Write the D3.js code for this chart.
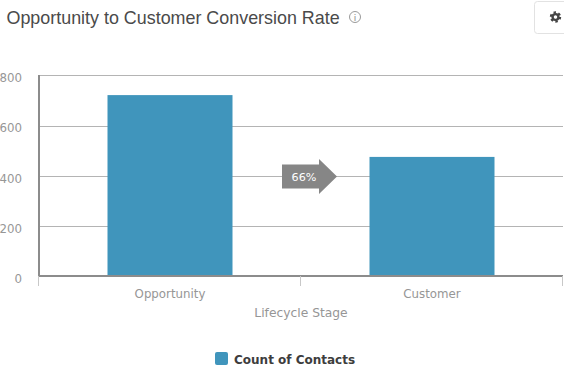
<!DOCTYPE html>
<html>
<head>
<meta charset="utf-8">
<script src="https://cdnjs.cloudflare.com/ajax/libs/d3/7.8.5/d3.min.js"></script>
<style>
  html, body { margin: 0; padding: 0; background: #fff; overflow: hidden; }
  text { font-family: "DejaVu Sans", sans-serif; }
  .tick-label { font-size: 11.8px; fill: #969696; }
</style>
</head>
<body>
<div id="chart"></div>
<script>
const stages = ['Opportunity', 'Customer'];
const contactCounts = [720, 474];
const yTicks = [0, 200, 400, 600, 800];
const seriesName = 'Count of Contacts';
const conversionLabel = '66%';
const chartTitle = 'Opportunity to Customer Conversion Rate';
const xAxisTitle = 'Lifecycle Stage';

const width = 564, height = 367;
const margin = {top: 75, right: 1, bottom: 91, left: 39};
const barColor = '#4095bc';

const svg = d3.select('#chart').append('svg')
    .attr('width', width)
    .attr('height', height);

const x = d3.scaleBand()
    .domain(stages)
    .range([margin.left, width - margin.right]);

const y = d3.scaleLinear()
    .domain([0, 800])
    .range([height - margin.bottom, margin.top]);

// Title and info icon
svg.append('text')
    .attr('x', 6.5)
    .attr('y', 24)
    .attr('fill', '#4a4a4a')
    .style('font-family', '"Liberation Sans", sans-serif')
    .style('font-size', '17.9px')
    .text(chartTitle);

const info = svg.append('g').attr('transform', 'translate(355,17)');
info.append('circle').attr('r', 5.5).attr('fill', 'none').attr('stroke', '#9a9a9a');
info.append('text')
    .attr('text-anchor', 'middle')
    .attr('y', 3.5)
    .attr('fill', '#8a8a8a')
    .style('font-size', '9px')
    .text('i');

// Settings button, cut off by the right edge
svg.append('rect')
    .attr('x', 534.5).attr('y', 1.5)
    .attr('width', 40).attr('height', 32)
    .attr('rx', 3)
    .attr('fill', '#fff')
    .attr('stroke', '#e2e2e2');

const gear = svg.append('g').attr('transform', 'translate(555.5,17)');
gear.append('circle')
    .attr('r', 4.6)
    .attr('fill', 'none')
    .attr('stroke', '#444')
    .attr('stroke-width', 2.2)
    .attr('stroke-dasharray', '2.4 2.4');
gear.append('circle')
    .attr('r', 2.9)
    .attr('fill', 'none')
    .attr('stroke', '#444')
    .attr('stroke-width', 2.4);

// Grid lines
svg.append('g')
  .selectAll('line')
  .data(yTicks.filter(d => d > 0))
  .join('line')
    .attr('x1', margin.left)
    .attr('x2', width - margin.right)
    .attr('y1', d => Math.ceil(y(d)) + 0.5)
    .attr('y2', d => Math.ceil(y(d)) + 0.5)
    .attr('stroke', '#b4b4b4');

// Y tick labels
svg.append('g')
  .selectAll('text')
  .data(yTicks)
  .join('text')
    .attr('class', 'tick-label')
    .attr('x', 22)
    .attr('y', d => y(d) + 7)
    .attr('text-anchor', 'end')
    .text(d => d);

// Bars
const barWidth = 125;
svg.append('g')
  .selectAll('rect')
  .data(contactCounts)
  .join('rect')
    .attr('x', (d, i) => x(stages[i]) + (x.bandwidth() - barWidth) / 2)
    .attr('y', d => y(d))
    .attr('width', barWidth)
    .attr('height', d => y(0) - y(d))
    .attr('fill', barColor);

// Axis lines and x ticks
svg.append('line')
    .attr('x1', margin.left).attr('x2', margin.left)
    .attr('y1', margin.top).attr('y2', y(0))
    .attr('stroke', '#8c8c8c').attr('stroke-width', 2);

svg.append('line')
    .attr('x1', margin.left - 1).attr('x2', width - margin.right)
    .attr('y1', y(0)).attr('y2', y(0))
    .attr('stroke', '#8c8c8c').attr('stroke-width', 2);

const xEdges = [x(stages[0]), x(stages[1]), x(stages[1]) + x.bandwidth()];
svg.append('g')
  .selectAll('line')
  .data(xEdges)
  .join('line')
    .attr('x1', d => Math.round(d) - 0.5)
    .attr('x2', d => Math.round(d) - 0.5)
    .attr('y1', y(0))
    .attr('y2', y(0) + 10)
    .attr('stroke', '#c8c8c8');

svg.append('g')
  .selectAll('text')
  .data(stages)
  .join('text')
    .attr('class', 'tick-label')
    .attr('x', d => x(d) + x.bandwidth() / 2)
    .attr('y', 298)
    .attr('text-anchor', 'middle')
    .text(d => d);

svg.append('text')
    .attr('x', 301)
    .attr('y', 317)
    .attr('text-anchor', 'middle')
    .attr('fill', '#969696')
    .style('font-size', '12.3px')
    .text(xAxisTitle);

// Conversion arrow, centred on the gap between the bars
const arrowX = xEdges[1] - 19, arrowY = y(400) + 1;
svg.append('path')
    .attr('transform', `translate(${arrowX},${arrowY})`)
    .attr('d', 'M0,-12H37V-17.5L55,0L37,17.5V12H0Z')
    .attr('fill', '#868686');

svg.append('text')
    .attr('x', arrowX + 22)
    .attr('y', arrowY + 4)
    .attr('text-anchor', 'middle')
    .attr('fill', '#ffffff')
    .style('font-size', '11.2px')
    .text(conversionLabel);

// Legend
svg.append('rect')
    .attr('x', 215).attr('y', 352)
    .attr('width', 13).attr('height', 13)
    .attr('rx', 2)
    .attr('fill', barColor);

svg.append('text')
    .attr('x', 234)
    .attr('y', 364)
    .attr('fill', '#3d3d3d')
    .style('font-size', '12px')
    .style('font-weight', 'bold')
    .text(seriesName);
</script>
</body>
</html>
